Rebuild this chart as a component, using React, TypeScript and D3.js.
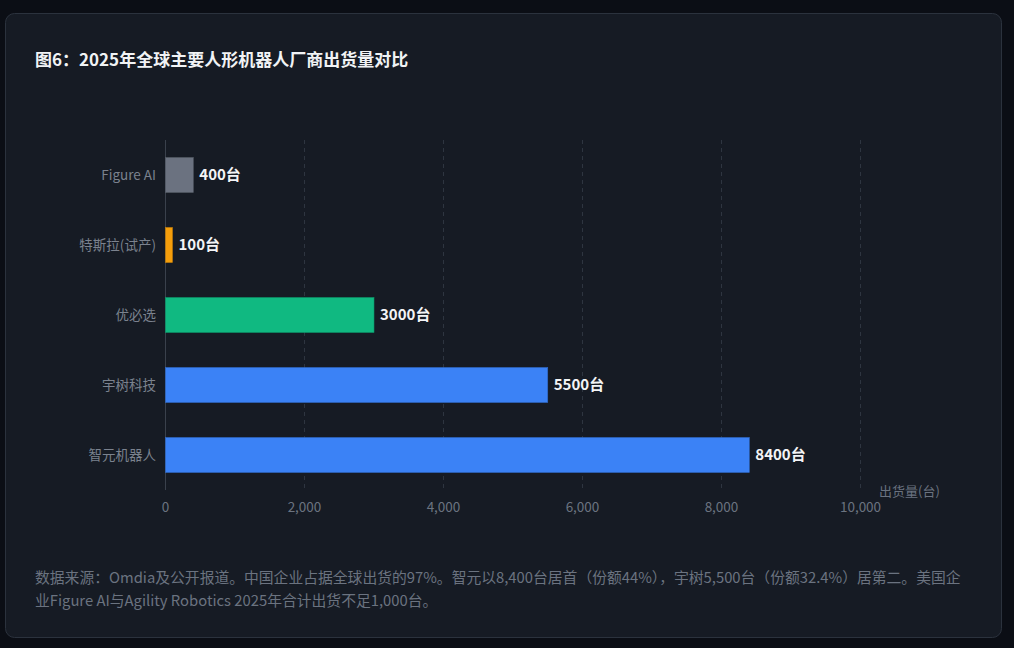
import React from "react";
import * as d3 from "d3";

const categories = ["Figure AI", "特斯拉(试产)", "优必选", "宇树科技", "智元机器人"];
const shipments = [400, 100, 3000, 5500, 8400];
const barColors = ["#6b7280", "#f59e0b", "#10b981", "#3b82f6", "#3b82f6"];
const xTicks = [0, 2000, 4000, 6000, 8000, 10000];
const titleText = "图6：2025年全球主要人形机器人厂商出货量对比";
const axisName = "出货量(台)";
const footerLines = [
  "数据来源：Omdia及公开报道。中国企业占据全球出货的97%。智元以8,400台居首（份额44%），宇树5,500台（份额32.4%）居第二。美国企",
  "业Figure AI与Agility Robotics 2025年合计出货不足1,000台。",
];

const W = 1014;
const H = 648;
const FONT = "'Noto Sans CJK SC', 'Noto Sans', sans-serif";

export default function App() {
  const x = d3.scaleLinear().domain([0, 10000]).range([165.5, 860.5]);
  const y = d3
    .scaleBand<string>()
    .domain(categories)
    .range([140, 490])
    .paddingInner(0.5)
    .paddingOuter(0.25);
  const fmt = d3.format(",");

  return (
    <div style={{ position: "absolute", left: 0, top: 0, width: W, height: H }}>
      <svg width={W} height={H} style={{ display: "block", fontFamily: FONT }}>
        <rect x={0} y={0} width={W} height={H} fill="#0b0e15" />
        <rect x={5.5} y={13.5} width={996} height={624} rx={9} fill="#161b24" stroke="#2b323d" strokeWidth={1} />
        <text x={35} y={66} fill="#f1f3f5" fontSize={17} fontWeight={700}>
          {titleText}
        </text>

        {xTicks.slice(1).map((t) => (
          <line key={t} x1={x(t)} x2={x(t)} y1={140} y2={490} stroke="#2e3540" strokeDasharray="4,4" strokeWidth={1} />
        ))}
        <line x1={x(0)} x2={x(0)} y1={140} y2={490} stroke="#3a414c" strokeWidth={1} />

        {xTicks.map((t) => (
          <text key={t} x={x(t)} y={512} fill="#6b7380" fontSize={13.5} textAnchor="middle">
            {fmt(t)}
          </text>
        ))}
        <text x={879} y={496} fill="#6b7380" fontSize={13}>
          {axisName}
        </text>

        {categories.map((c, i) => {
          const by = y(c)!;
          const bh = y.bandwidth();
          const v = shipments[i];
          return (
            <g key={c}>
              <text x={156} y={by + bh / 2} dy="0.35em" fill="#7b828e" fontSize={13.5} textAnchor="end">
                {c}
              </text>
              <rect
                x={x(0)}
                y={by}
                width={x(v) - x(0)}
                height={bh}
                fill={barColors[i]}
                stroke={d3.color(barColors[i])!.darker(0.6).formatHex()}
                strokeWidth={0.6}
              />
              <text x={x(v) + 6} y={by + bh / 2} dy="0.35em" fill="#f3f4f6" fontSize={15} fontWeight={700}>
                {`${v}台`}
              </text>
            </g>
          );
        })}

        {footerLines.map((line, i) => (
          <text key={i} x={35} y={583 + i * 23} fill="#6b7380" fontSize={14.8}>
            {line}
          </text>
        ))}
      </svg>
    </div>
  );
}
